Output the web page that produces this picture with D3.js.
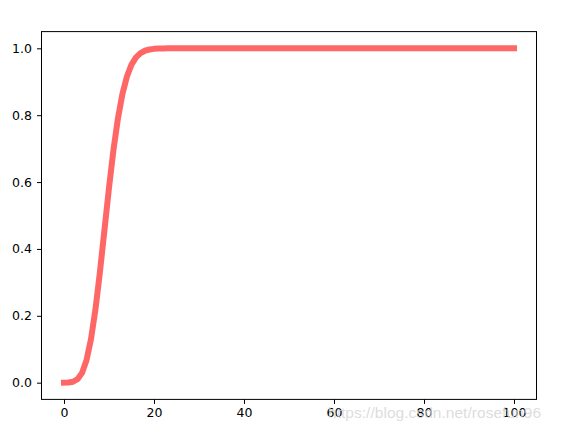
<!DOCTYPE html>
<html>
<head>
<meta charset="utf-8">
<script src="https://cdn.jsdelivr.net/npm/d3@7"></script>
<style>
    body { margin: 0; background: #fff; }
    .tick text { font-family: "DejaVu Sans", sans-serif; font-size: 12.5px; fill: #000; }
</style>
</head>
<body>
<div id="chart"></div>
<script>
// CDF values, one per integer x from 0 to 100
let yValues = [
    0.0000, 0.0005, 0.0028, 0.0103, 0.0293, 0.0671, 0.1301, 0.2202, 0.3328, 0.4579,
    0.5830, 0.6968, 0.7916, 0.8645, 0.9165, 0.9513, 0.9730, 0.9857, 0.9928, 0.9965,
    0.9984, 0.9993, 0.9997, 0.9999, 1, 1, 1, 1, 1, 1,
    1, 1, 1, 1, 1, 1, 1, 1, 1, 1,
    1, 1, 1, 1, 1, 1, 1, 1, 1, 1,
    1, 1, 1, 1, 1, 1, 1, 1, 1, 1,
    1, 1, 1, 1, 1, 1, 1, 1, 1, 1,
    1, 1, 1, 1, 1, 1, 1, 1, 1, 1,
    1, 1, 1, 1, 1, 1, 1, 1, 1, 1,
    1, 1, 1, 1, 1, 1, 1, 1, 1, 1,
    1
];
let xTicks = [0, 20, 40, 60, 80, 100];
let yTicks = [0, 0.2, 0.4, 0.6, 0.8, 1.0];
let watermark = "https://blog.csdn.net/rosefun96";

let W = 578, H = 439;
let margin = {top: 31.6, right: 41.5, bottom: 39.6, left: 41.5};
let width = W - margin.left - margin.right;
let height = H - margin.top - margin.bottom;

let svg = d3.select("#chart").append("svg")
    .attr("width", W)
    .attr("height", H);

let g = svg.append("g")
    .attr("transform", `translate(${margin.left}, ${margin.top})`);

// matplotlib style 5% padding around the data
let x = d3.scaleLinear().domain([-5, 105]).range([0, width]);
let y = d3.scaleLinear().domain([-0.05, 1.05]).range([height, 0]);

// the curve
let line = d3.line()
    .x((d, i) => x(i))
    .y(d => y(d));

g.append("path")
    .datum(yValues)
    .attr("fill", "none")
    .attr("stroke", "red")
    .attr("stroke-opacity", 0.6)
    .attr("stroke-width", 6)
    .attr("stroke-linecap", "square")
    .attr("stroke-linejoin", "round")
    .attr("d", line);

// axes
let xAxis = g.append("g")
    .attr("transform", `translate(0, ${height})`)
    .call(d3.axisBottom(x).tickValues(xTicks).tickSize(4.5).tickPadding(4));

let yAxis = g.append("g")
    .call(d3.axisLeft(y).tickValues(yTicks).tickFormat(d3.format(".1f")).tickSize(4.5).tickPadding(5));

[xAxis, yAxis].forEach(a => {
    a.select(".domain").remove();
    a.selectAll(".tick line").attr("stroke", "#000").attr("stroke-width", 1);
});

// frame
g.append("rect")
    .attr("x", 0)
    .attr("y", 0)
    .attr("width", width)
    .attr("height", height)
    .attr("fill", "none")
    .attr("stroke", "#000")
    .attr("stroke-width", 1);

// blog watermark
svg.append("text")
    .attr("x", 328)
    .attr("y", 418)
    .attr("textLength", 213)
    .style("font-family", "'Liberation Sans', Arial, sans-serif")
    .style("font-size", "15.5px")
    .style("fill", "#d4d4d4")
    .style("fill-opacity", 0.8)
    .text(watermark);
</script>
</body>
</html>
